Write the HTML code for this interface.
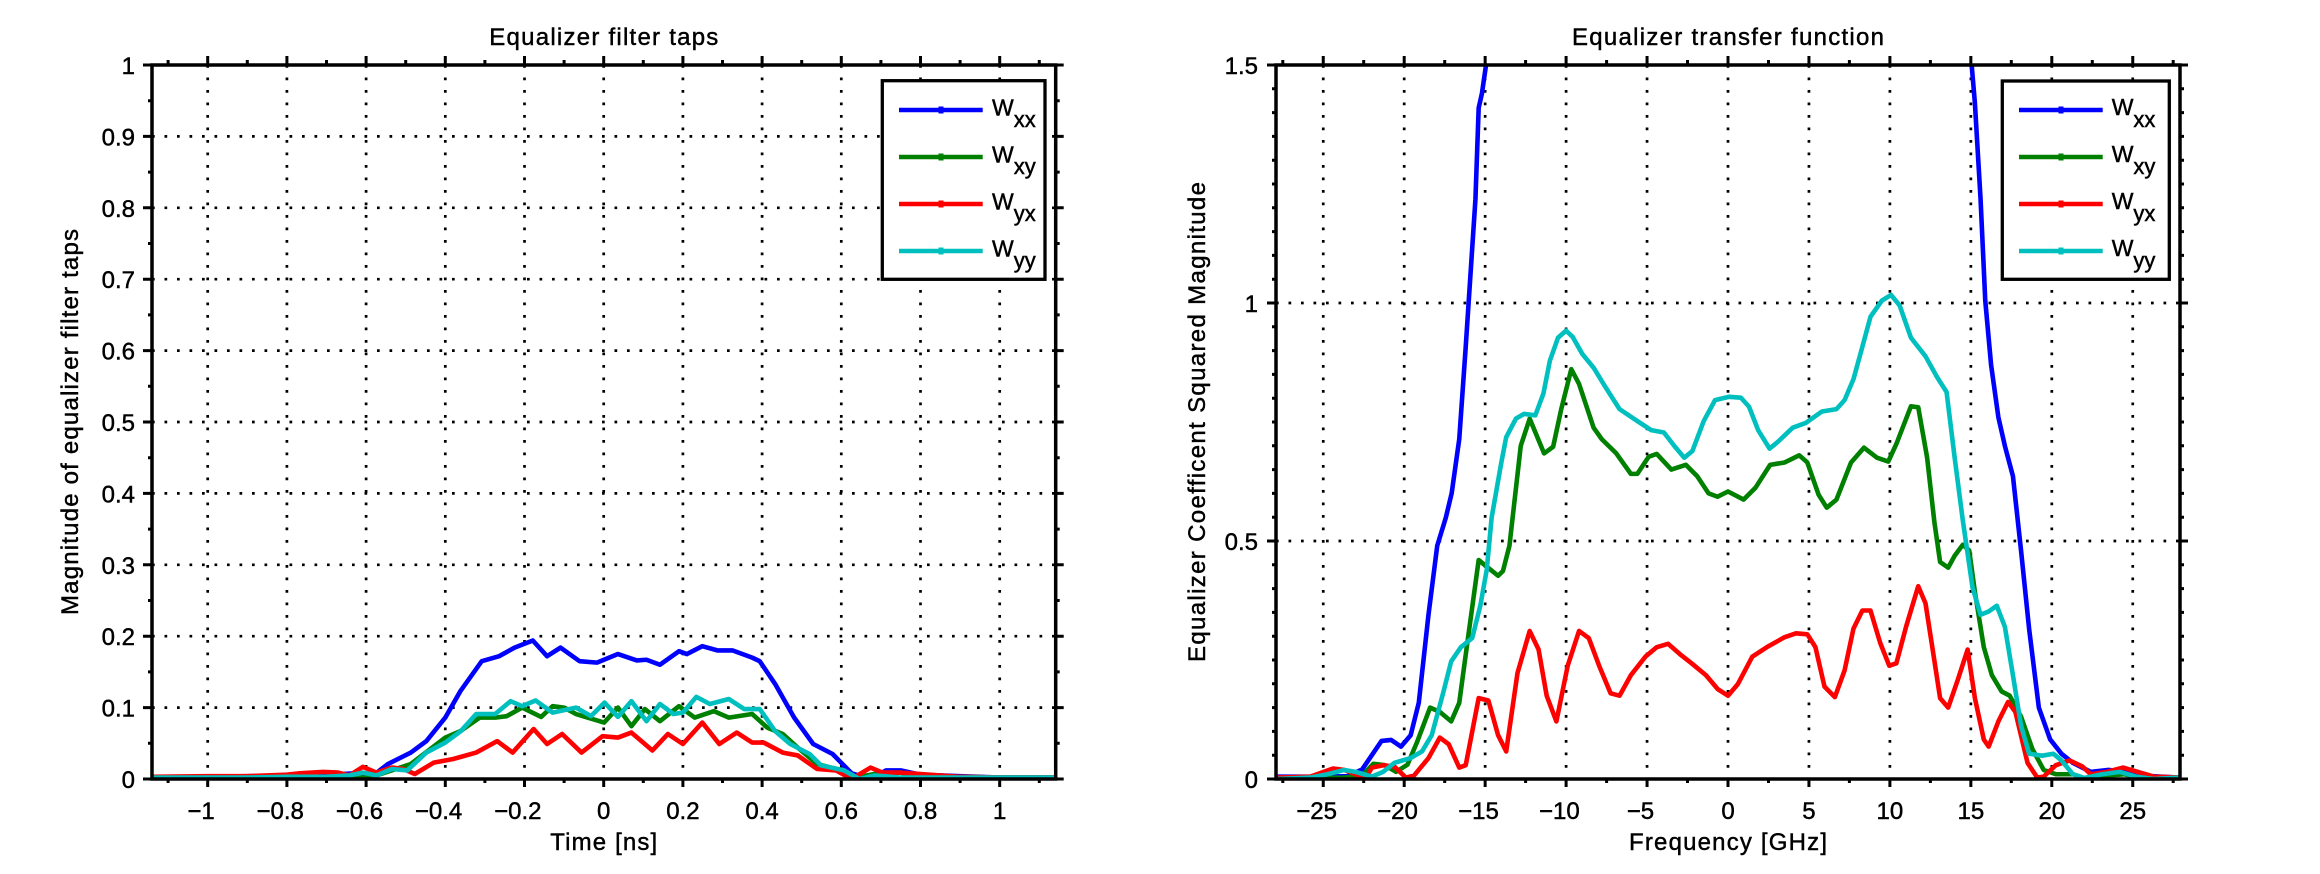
<!DOCTYPE html>
<html>
<head>
<meta charset="utf-8">
<style>
  html,body{margin:0;padding:0;background:#fff;}
  svg{display:block;}
  text{font-family:"Liberation Sans",Arial,sans-serif;fill:#000;stroke:#000;stroke-width:0.45px;}
</style>
</head>
<body>
<svg width="2320" height="874" viewBox="0 0 2320 874" xmlns="http://www.w3.org/2000/svg">
<rect width="2320" height="874" fill="#fff"/>
<defs>
  <clipPath id="cl"><rect x="152" y="65" width="903.7" height="714"/></clipPath>
  <clipPath id="cr"><rect x="1276" y="65" width="904" height="714"/></clipPath>
</defs>

<!-- ================= LEFT PLOT ================= -->
<g stroke="#000" stroke-width="2.7" stroke-dasharray="2.7 9.8" fill="none">
  <path d="M207.7 65V779M286.9 65V779M366.1 65V779M445.3 65V779M524.5 65V779M603.7 65V779M682.9 65V779M762.1 65V779M841.3 65V779M920.5 65V779M999.7 65V779"/>
  <path d="M152 707.6H1055.7M152 636.2H1055.7M152 564.8H1055.7M152 493.4H1055.7M152 422H1055.7M152 350.6H1055.7M152 279.2H1055.7M152 207.8H1055.7M152 136.4H1055.7"/>
</g>

<g clip-path="url(#cl)">
<g transform="translate(603.7 779) scale(396 -714)" fill="none" stroke-width="4.6" stroke-linejoin="round" stroke-linecap="round">
<polyline vector-effect="non-scaling-stroke" stroke="#0000ff" points="-1.14,0.003 -1.0,0.003 -0.9,0.004 -0.8,0.005 -0.75,0.006 -0.7,0.006 -0.66,0.007 -0.63,0.008 -0.6,0.007 -0.575,0.008 -0.545,0.021 -0.487,0.037 -0.448,0.053 -0.4,0.086 -0.362,0.123 -0.308,0.165 -0.264,0.172 -0.225,0.184 -0.179,0.194 -0.143,0.172 -0.109,0.184 -0.061,0.165 -0.017,0.163 0.036,0.175 0.084,0.166 0.108,0.167 0.142,0.16 0.19,0.179 0.21,0.175 0.249,0.186 0.288,0.18 0.326,0.18 0.375,0.17 0.394,0.165 0.433,0.133 0.481,0.086 0.529,0.049 0.578,0.035 0.626,0.008 0.674,0.0 0.713,0.012 0.75,0.012 0.8,0.006 0.9,0.004 1.0,0.002 1.14,0.002"/>
<polyline vector-effect="non-scaling-stroke" stroke="#008000" points="-1.14,0.001 -0.8,0.002 -0.7,0.002 -0.63,0.002 -0.6,0.002 -0.574,0.005 -0.487,0.021 -0.4,0.058 -0.362,0.067 -0.313,0.086 -0.274,0.086 -0.245,0.088 -0.206,0.1 -0.158,0.087 -0.129,0.102 -0.1,0.1 -0.07,0.091 -0.041,0.086 0.001,0.079 0.036,0.1 0.07,0.074 0.104,0.098 0.142,0.081 0.19,0.102 0.23,0.086 0.278,0.095 0.316,0.086 0.375,0.091 0.413,0.072 0.452,0.063 0.49,0.044 0.539,0.021 0.587,0.014 0.636,0.002 0.684,0.007 0.748,0.009 0.8,0.004 0.9,0.003 1.0,0.002 1.14,0.002"/>
<polyline vector-effect="non-scaling-stroke" stroke="#ff0000" points="-1.14,0.003 -1.0,0.004 -0.9,0.004 -0.8,0.006 -0.767,0.008 -0.709,0.01 -0.671,0.009 -0.642,0.005 -0.608,0.017 -0.574,0.009 -0.535,0.016 -0.506,0.014 -0.477,0.007 -0.429,0.023 -0.38,0.028 -0.322,0.037 -0.269,0.053 -0.23,0.037 -0.177,0.07 -0.143,0.049 -0.105,0.063 -0.056,0.037 -0.003,0.06 0.036,0.058 0.07,0.065 0.123,0.04 0.162,0.063 0.2,0.049 0.249,0.079 0.292,0.049 0.336,0.065 0.375,0.051 0.404,0.051 0.452,0.037 0.49,0.033 0.539,0.014 0.587,0.012 0.626,0.0 0.674,0.016 0.704,0.009 0.748,0.009 0.8,0.007 0.9,0.003 1.0,0.002 1.14,0.002"/>
<polyline vector-effect="non-scaling-stroke" stroke="#00bfbf" points="-1.14,0.002 -0.9,0.002 -0.8,0.003 -0.7,0.003 -0.642,0.005 -0.608,0.009 -0.574,0.005 -0.535,0.014 -0.496,0.012 -0.448,0.037 -0.4,0.051 -0.361,0.067 -0.322,0.091 -0.274,0.091 -0.235,0.109 -0.206,0.102 -0.172,0.11 -0.129,0.093 -0.07,0.1 -0.032,0.088 0.002,0.107 0.036,0.087 0.07,0.109 0.108,0.081 0.142,0.105 0.176,0.091 0.2,0.093 0.234,0.115 0.268,0.105 0.316,0.112 0.355,0.098 0.394,0.098 0.433,0.067 0.471,0.049 0.52,0.035 0.549,0.019 0.607,0.012 0.646,0.0 0.684,0.005 0.748,0.002 0.9,0.002 1.14,0.002"/>
</g>
</g>

<rect x="152" y="65" width="903.7" height="714" fill="none" stroke="#000" stroke-width="3.5"/>
<g stroke="#000" stroke-width="3" fill="none">
  <path d="M207.7 779v8M286.9 779v8M366.1 779v8M445.3 779v8M524.5 779v8M603.7 779v8M682.9 779v8M762.1 779v8M841.3 779v8M920.5 779v8M999.7 779v8"/>
  <path d="M207.7 65v-9M286.9 65v-9M366.1 65v-9M445.3 65v-9M524.5 65v-9M603.7 65v-9M682.9 65v-9M762.1 65v-9M841.3 65v-9M920.5 65v-9M999.7 65v-9"/>
  <path d="M168.1 779v4M247.3 779v4M326.5 779v4M405.7 779v4M484.9 779v4M564.1 779v4M643.3 779v4M722.5 779v4M801.7 779v4M880.9 779v4M960.1 779v4M1039.3 779v4"/>
  <path d="M168.1 65v-5M247.3 65v-5M326.5 65v-5M405.7 65v-5M484.9 65v-5M564.1 65v-5M643.3 65v-5M722.5 65v-5M801.7 65v-5M880.9 65v-5M960.1 65v-5M1039.3 65v-5"/>
  <path d="M152 779h-9M152 707.6h-9M152 636.2h-9M152 564.8h-9M152 493.4h-9M152 422h-9M152 350.6h-9M152 279.2h-9M152 207.8h-9M152 136.4h-9M152 65h-9"/>
  <path d="M1055.7 779h8M1055.7 707.6h8M1055.7 636.2h8M1055.7 564.8h8M1055.7 493.4h8M1055.7 422h8M1055.7 350.6h8M1055.7 279.2h8M1055.7 207.8h8M1055.7 136.4h8M1055.7 65h8"/>
  <path d="M152 743.3h-4M152 671.9h-4M152 600.5h-4M152 529.1h-4M152 457.7h-4M152 386.3h-4M152 314.9h-4M152 243.5h-4M152 172.1h-4M152 100.7h-4"/>
  <path d="M1055.7 743.3h4M1055.7 671.9h4M1055.7 600.5h4M1055.7 529.1h4M1055.7 457.7h4M1055.7 386.3h4M1055.7 314.9h4M1055.7 243.5h4M1055.7 172.1h4M1055.7 100.7h4"/>
</g>

<g font-size="24" text-anchor="end">
  <text x="135" y="788">0</text>
  <text x="135" y="716.6">0.1</text>
  <text x="135" y="645.2">0.2</text>
  <text x="135" y="573.8">0.3</text>
  <text x="135" y="502.4">0.4</text>
  <text x="135" y="431">0.5</text>
  <text x="135" y="359.6">0.6</text>
  <text x="135" y="288.2">0.7</text>
  <text x="135" y="216.8">0.8</text>
  <text x="135" y="145.4">0.9</text>
  <text x="135" y="74">1</text>
</g>
<g font-size="24" text-anchor="middle">
  <text x="201" y="819">−1</text>
  <text x="280.2" y="819">−0.8</text>
  <text x="359.4" y="819">−0.6</text>
  <text x="438.6" y="819">−0.4</text>
  <text x="517.8" y="819">−0.2</text>
  <text x="603.7" y="819">0</text>
  <text x="682.9" y="819">0.2</text>
  <text x="762.1" y="819">0.4</text>
  <text x="841.3" y="819">0.6</text>
  <text x="920.5" y="819">0.8</text>
  <text x="999.7" y="819">1</text>
</g>

<text x="603.8" y="45" font-size="24" text-anchor="middle" textLength="229" lengthAdjust="spacing">Equalizer filter taps</text>
<text x="603.7" y="850" font-size="24" text-anchor="middle" textLength="107" lengthAdjust="spacing">Time [ns]</text>
<text transform="translate(78 422) rotate(-90)" font-size="24" text-anchor="middle" textLength="386" lengthAdjust="spacing">Magnitude of equalizer filter taps</text>

<rect x="882.3" y="80.7" width="162.7" height="198.6" fill="#fff" stroke="#000" stroke-width="3.3"/>
<g stroke-width="4.5" fill="none">
  <path d="M899 110H982.7" stroke="#0000ff"/>
  <path d="M899 157H982.7" stroke="#008000"/>
  <path d="M899 204H982.7" stroke="#ff0000"/>
  <path d="M899 251H982.7" stroke="#00bfbf"/>
</g>
<g>
  <rect x="938.5" y="106.5" width="5" height="7" fill="#0000ff"/>
  <rect x="938.5" y="153.5" width="5" height="7" fill="#008000"/>
  <rect x="938.5" y="200.5" width="5" height="7" fill="#ff0000"/>
  <rect x="938.5" y="247.5" width="5" height="7" fill="#00bfbf"/>
</g>
<g font-size="23">
  <text x="992" y="115.5">W<tspan dy="11.5" font-size="22">xx</tspan></text>
  <text x="992" y="162.5">W<tspan dy="11.5" font-size="22">xy</tspan></text>
  <text x="992" y="209.5">W<tspan dy="11.5" font-size="22">yx</tspan></text>
  <text x="992" y="256.5">W<tspan dy="11.5" font-size="22">yy</tspan></text>
</g>

<!-- ================= RIGHT PLOT ================= -->
<g stroke="#000" stroke-width="2.7" stroke-dasharray="2.7 9.8" fill="none">
  <path d="M1323.25 65V779M1404.2 65V779M1485.15 65V779M1566.1 65V779M1647.05 65V779M1728 65V779M1808.95 65V779M1889.9 65V779M1970.85 65V779M2051.8 65V779M2132.75 65V779"/>
  <path d="M1276 541H2180M1276 303H2180"/>
</g>

<g clip-path="url(#cr)">
<g transform="translate(1728 779) scale(16.19 -476)" fill="none" stroke-width="4.6" stroke-linejoin="round" stroke-linecap="round">
<polyline vector-effect="non-scaling-stroke" stroke="#0000ff" points="-27.9,0.005 -25,0.005 -23.5,0.006 -22.6,0.02 -21.4,0.08 -20.8,0.082 -20.2,0.068 -19.6,0.092 -19.1,0.16 -18.5,0.345 -17.96,0.49 -17.43,0.549 -17.07,0.6 -16.6,0.714 -16.2,0.908 -15.6,1.218 -15.4,1.41 -15.2,1.44 -14.86,1.52 -14.7,1.7"/>
<polyline vector-effect="non-scaling-stroke" stroke="#0000ff" points="14.9,1.7 15.0,1.52 15.25,1.42 15.6,1.218 15.89,1.005 16.25,0.87 16.7,0.76 17.1,0.7 17.6,0.636 18.1,0.48 18.6,0.315 19.2,0.15 19.9,0.083 20.6,0.053 21.3,0.034 22.4,0.015 23.5,0.019 24.6,0.015 25.6,0.007 27.9,0.003"/>
<polyline vector-effect="non-scaling-stroke" stroke="#008000" points="-27.9,0.0 -23.7,0.003 -22.6,0.007 -21.9,0.032 -21.2,0.029 -20.5,0.015 -19.8,0.03 -19.2,0.078 -18.4,0.15 -17.8,0.141 -17.1,0.121 -16.6,0.16 -16.1,0.286 -15.4,0.46 -14.9,0.446 -14.2,0.427 -13.9,0.437 -13.5,0.49 -12.8,0.7 -12.25,0.757 -11.36,0.684 -10.8,0.698 -10.3,0.777 -9.68,0.861 -9.2,0.83 -8.3,0.738 -7.8,0.714 -6.9,0.684 -6.0,0.641 -5.6,0.641 -4.9,0.677 -4.4,0.683 -3.5,0.65 -2.6,0.66 -1.9,0.636 -1.2,0.6 -0.64,0.593 0,0.604 0.96,0.587 1.7,0.612 2.6,0.66 3.5,0.665 4.4,0.68 4.9,0.665 5.6,0.597 6.1,0.57 6.7,0.587 7.6,0.665 8.4,0.696 9.2,0.675 9.9,0.667 10.4,0.704 11.3,0.783 11.75,0.781 12.3,0.675 12.75,0.539 13.1,0.456 13.6,0.444 14.0,0.469 14.5,0.492 14.9,0.48 15.25,0.393 15.8,0.277 16.3,0.218 16.9,0.184 17.4,0.175 18.1,0.131 18.8,0.063 19.5,0.019 20.25,0.01 21.3,0.01 22,0.002 23.4,0.007 24.5,0.01 25.6,0.0 27.9,0.0"/>
<polyline vector-effect="non-scaling-stroke" stroke="#ff0000" points="-27.9,0.003 -25.8,0.005 -24.4,0.022 -23.7,0.019 -23.0,0.01 -22.4,0.0 -22.0,0.024 -21.3,0.029 -20.6,0.026 -19.9,0.003 -19.4,0.007 -18.5,0.044 -17.8,0.087 -17.25,0.073 -16.6,0.024 -16.2,0.029 -15.4,0.17 -14.8,0.165 -14.2,0.092 -13.7,0.058 -13.0,0.223 -12.25,0.311 -11.7,0.272 -11.2,0.175 -10.6,0.121 -9.9,0.238 -9.2,0.311 -8.6,0.296 -7.96,0.238 -7.25,0.18 -6.7,0.175 -6.0,0.218 -5.1,0.257 -4.4,0.277 -3.7,0.284 -2.96,0.262 -2.25,0.243 -1.36,0.218 -0.64,0.189 0,0.175 0.6,0.199 1.5,0.257 2.4,0.277 3.5,0.298 4.2,0.306 4.9,0.304 5.4,0.277 5.96,0.194 6.6,0.172 7.2,0.228 7.75,0.316 8.3,0.354 8.8,0.354 9.4,0.286 9.96,0.238 10.4,0.243 11.0,0.32 11.75,0.405 12.2,0.369 12.75,0.248 13.1,0.17 13.6,0.15 14.2,0.209 14.8,0.272 15.25,0.17 15.8,0.083 16.1,0.068 16.7,0.121 17.3,0.162 17.75,0.141 18.5,0.034 19.1,0.003 19.5,0.005 20.25,0.029 21.1,0.039 21.9,0.026 22.4,0.01 23.4,0.015 24.4,0.024 25.3,0.015 26.3,0.005 27.9,0.003"/>
<polyline vector-effect="non-scaling-stroke" stroke="#00bfbf" points="-27.9,0.0 -25.8,0.003 -24.75,0.01 -23.7,0.019 -23.0,0.015 -22.0,0.005 -21.3,0.015 -20.6,0.034 -19.6,0.044 -18.9,0.058 -18.3,0.092 -17.6,0.18 -17.1,0.247 -16.5,0.277 -15.8,0.296 -15.3,0.364 -14.9,0.44 -14.6,0.549 -14.0,0.665 -13.7,0.718 -13.1,0.757 -12.6,0.767 -11.9,0.764 -11.4,0.81 -11.0,0.879 -10.5,0.927 -10.0,0.942 -9.6,0.929 -9.0,0.893 -8.3,0.864 -7.6,0.825 -6.7,0.777 -5.6,0.752 -4.75,0.733 -3.96,0.728 -3.3,0.699 -2.7,0.675 -2.2,0.689 -1.5,0.752 -0.8,0.796 0.07,0.803 0.8,0.801 1.3,0.782 1.86,0.733 2.57,0.694 3.1,0.709 4.0,0.738 4.8,0.748 5.8,0.772 6.7,0.777 7.2,0.796 7.75,0.84 8.3,0.908 8.8,0.971 9.5,1.005 10.07,1.017 10.6,0.995 11.3,0.927 12.2,0.888 12.9,0.845 13.5,0.813 14.0,0.675 14.5,0.544 15.1,0.403 15.6,0.345 16.1,0.352 16.6,0.364 17.1,0.32 17.6,0.218 18.1,0.112 18.6,0.053 19.4,0.049 20.1,0.053 20.6,0.039 21.3,0.01 22.0,0.002 23.1,0.01 24.2,0.015 25.2,0.005 26.3,0.0 27.9,0.003"/>
</g>
</g>

<rect x="1276" y="65" width="904" height="714" fill="none" stroke="#000" stroke-width="3.5"/>
<g stroke="#000" stroke-width="3" fill="none">
  <path d="M1323.25 779v8M1404.2 779v8M1485.15 779v8M1566.1 779v8M1647.05 779v8M1728 779v8M1808.95 779v8M1889.9 779v8M1970.85 779v8M2051.8 779v8M2132.75 779v8"/>
  <path d="M1323.25 65v-9M1404.2 65v-9M1485.15 65v-9M1566.1 65v-9M1647.05 65v-9M1728 65v-9M1808.95 65v-9M1889.9 65v-9M1970.85 65v-9M2051.8 65v-9M2132.75 65v-9"/>
  <path d="M1282.8 779v4M1363.7 779v4M1444.7 779v4M1525.6 779v4M1606.6 779v4M1687.5 779v4M1768.5 779v4M1849.4 779v4M1930.4 779v4M2011.3 779v4M2092.3 779v4M2173.2 779v4"/>
  <path d="M1282.8 65v-5M1363.7 65v-5M1444.7 65v-5M1525.6 65v-5M1606.6 65v-5M1687.5 65v-5M1768.5 65v-5M1849.4 65v-5M1930.4 65v-5M2011.3 65v-5M2092.3 65v-5M2173.2 65v-5"/>
  <path d="M1276 779h-9M1276 541h-9M1276 303h-9M1276 65h-9M2180 779h8M2180 541h8M2180 303h8M2180 65h8"/>
  <path d="M1276 755.2h-4M1276 731.4h-4M1276 707.6h-4M1276 683.8h-4M1276 660h-4M1276 636.2h-4M1276 612.4h-4M1276 588.6h-4M1276 564.8h-4M1276 517.2h-4M1276 493.4h-4M1276 469.6h-4M1276 445.8h-4M1276 422h-4M1276 398.2h-4M1276 374.4h-4M1276 350.6h-4M1276 326.8h-4M1276 279.2h-4M1276 255.4h-4M1276 231.6h-4M1276 207.8h-4M1276 184h-4M1276 160.2h-4M1276 136.4h-4M1276 112.6h-4M1276 88.8h-4"/>
  <path d="M2180 755.2h4M2180 731.4h4M2180 707.6h4M2180 683.8h4M2180 660h4M2180 636.2h4M2180 612.4h4M2180 588.6h4M2180 564.8h4M2180 517.2h4M2180 493.4h4M2180 469.6h4M2180 445.8h4M2180 422h4M2180 398.2h4M2180 374.4h4M2180 350.6h4M2180 326.8h4M2180 279.2h4M2180 255.4h4M2180 231.6h4M2180 207.8h4M2180 184h4M2180 160.2h4M2180 136.4h4M2180 112.6h4M2180 88.8h4"/>
</g>

<g font-size="24" text-anchor="end">
  <text x="1258" y="788">0</text>
  <text x="1258" y="550">0.5</text>
  <text x="1258" y="312">1</text>
  <text x="1258" y="74">1.5</text>
</g>
<g font-size="24" text-anchor="middle">
  <text x="1316.6" y="819">−25</text>
  <text x="1397.5" y="819">−20</text>
  <text x="1478.5" y="819">−15</text>
  <text x="1559.4" y="819">−10</text>
  <text x="1640.4" y="819">−5</text>
  <text x="1728" y="819">0</text>
  <text x="1808.95" y="819">5</text>
  <text x="1889.9" y="819">10</text>
  <text x="1970.85" y="819">15</text>
  <text x="2051.8" y="819">20</text>
  <text x="2132.75" y="819">25</text>
</g>

<text x="1728" y="45" font-size="24" text-anchor="middle" textLength="312" lengthAdjust="spacing">Equalizer transfer function</text>
<text x="1728" y="850" font-size="24" text-anchor="middle" textLength="198" lengthAdjust="spacing">Frequency [GHz]</text>
<text transform="translate(1205 422) rotate(-90)" font-size="24" text-anchor="middle" textLength="480" lengthAdjust="spacing">Equalizer Coefficent Squared Magnitude</text>

<rect x="2002.3" y="81" width="167" height="198.3" fill="#fff" stroke="#000" stroke-width="3.3"/>
<g stroke-width="4.5" fill="none">
  <path d="M2019 110H2102.7" stroke="#0000ff"/>
  <path d="M2019 157H2102.7" stroke="#008000"/>
  <path d="M2019 204H2102.7" stroke="#ff0000"/>
  <path d="M2019 251H2102.7" stroke="#00bfbf"/>
</g>
<g>
  <rect x="2058.5" y="106.5" width="5" height="7" fill="#0000ff"/>
  <rect x="2058.5" y="153.5" width="5" height="7" fill="#008000"/>
  <rect x="2058.5" y="200.5" width="5" height="7" fill="#ff0000"/>
  <rect x="2058.5" y="247.5" width="5" height="7" fill="#00bfbf"/>
</g>
<g font-size="23">
  <text x="2111.7" y="115">W<tspan dy="12" font-size="22">xx</tspan></text>
  <text x="2111.7" y="162">W<tspan dy="12" font-size="22">xy</tspan></text>
  <text x="2111.7" y="209">W<tspan dy="12" font-size="22">yx</tspan></text>
  <text x="2111.7" y="256">W<tspan dy="12" font-size="22">yy</tspan></text>
</g>
</svg>
</body>
</html>
